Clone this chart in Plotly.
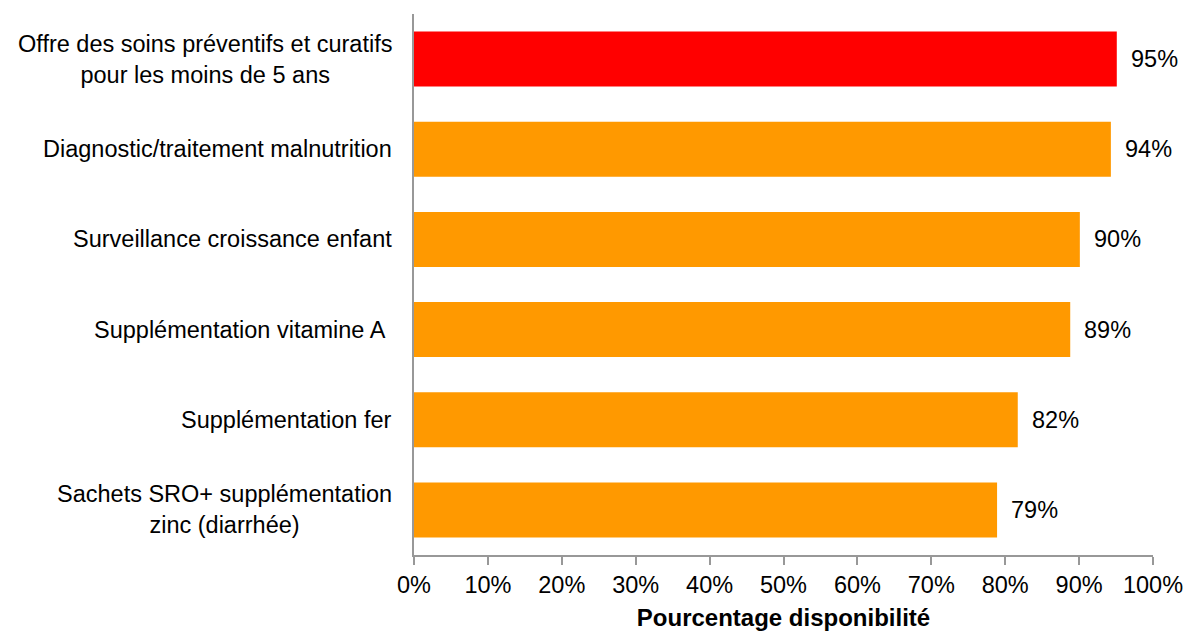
import plotly.graph_objects as go

categories = [
    "Offre des soins préventifs et curatifs<br>pour les moins de 5 ans",
    "Diagnostic/traitement malnutrition",
    "Surveillance croissance enfant",
    "Supplémentation vitamine A&nbsp;",
    "Supplémentation fer",
    "Sachets SRO+ supplémentation<br>zinc (diarrhée)",
]
values = [95.1, 94.3, 90.1, 88.8, 81.7, 78.9]
value_labels = ["95%", "94%", "90%", "89%", "82%", "79%"]
bar_colors = ["#FF0000", "#FF9900", "#FF9900", "#FF9900", "#FF9900", "#FF9900"]
tick_vals = [0, 10, 20, 30, 40, 50, 60, 70, 80, 90, 100]
tick_text = ["0%", "10%", "20%", "30%", "40%", "50%", "60%", "70%", "80%", "90%", "100%"]

FONT = "Liberation Sans, Arial, sans-serif"
FS = 23.5
keys = [f"c{i}" for i in range(len(categories))]

fig = go.Figure(
    go.Bar(
        x=values,
        y=keys,
        orientation="h",
        marker=dict(color=bar_colors, line=dict(width=0)),
        hoverinfo="skip",
    )
)

annotations = []
for k, lab in zip(keys, categories):
    annotations.append(dict(
        x=0, xref="paper", y=k, yref="y", text=lab, showarrow=False,
        xanchor="right", yanchor="middle", align="center", xshift=-20,
        font=dict(family=FONT, size=FS, color="#000000"),
    ))
for k, v, t in zip(keys, values, value_labels):
    annotations.append(dict(
        x=v, xref="x", y=k, yref="y", text=t, showarrow=False,
        xanchor="left", yanchor="middle", xshift=12,
        font=dict(family=FONT, size=FS, color="#000000"),
    ))

fig.update_layout(
    width=1186, height=631,
    margin=dict(l=414, r=33, t=14, b=76, autoexpand=False),
    paper_bgcolor="white", plot_bgcolor="white",
    showlegend=False,
    bargap=0.39,
    annotations=annotations,
    font=dict(family=FONT, size=FS, color="#000000"),
)
fig.update_xaxes(
    range=[0, 100], tickvals=tick_vals, ticktext=tick_text,
    automargin=False,
    showgrid=False, zeroline=False,
    showline=True, linecolor="#989898", linewidth=2,
    ticks="outside", ticklen=8, tickwidth=2, tickcolor="#989898",
    tickfont=dict(family=FONT, size=FS, color="#000000"),
    title=dict(text="<b>Pourcentage disponibilité</b>", standoff=14,
               font=dict(family=FONT, size=24, color="#000000")),
)
fig.update_yaxes(
    categoryorder="array", categoryarray=keys, autorange="reversed",
    automargin=False,
    showticklabels=False, showgrid=False, zeroline=False,
    showline=True, linecolor="#989898", linewidth=2, ticks="",
)

fig.write_html("out.html")
